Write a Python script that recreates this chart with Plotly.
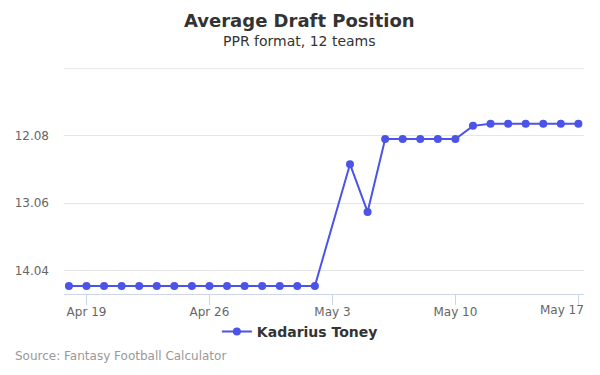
import plotly.graph_objects as go
import pandas as pd

# Data
dates = pd.date_range("2021-04-18", "2021-05-02").strftime("%Y-%m-%d").tolist() + \
        pd.date_range("2021-05-04", "2021-05-17").strftime("%Y-%m-%d").tolist()
adp_overall = [162.3] * 15 + [144.2, 151.3] + [140.45] * 5 + [138.5] + [138.2] * 6
tick_vals = [130, 140, 150, 160]
tick_text = ["", "12.08", "13.06", "14.04"]
x_ticks = ["2021-04-19", "2021-04-26", "2021-05-03", "2021-05-10", "2021-05-17"]
x_tick_text = ["Apr 19", "Apr 26", "May 3", "May 10", ""]
last_tick_label = "May 17"
player = "Kadarius Toney"

color = "#4b53e9"
font_family = "DejaVu Sans"

fig = go.Figure()
fig.add_trace(go.Scatter(
    x=dates, y=adp_overall, mode="lines+markers", name=player,
    line=dict(color=color, width=2),
    marker=dict(color=color, size=8),
    cliponaxis=False,
))

# top gridline
fig.add_shape(type="line", xref="paper", x0=0, x1=1, yref="y", y0=tick_vals[0], y1=tick_vals[0],
              line=dict(color="#e6e6e6", width=1), layer="below")

fig.update_layout(
    width=600, height=375,
    margin=dict(l=64, r=16, t=68, b=81, autoexpand=False),
    paper_bgcolor="white", plot_bgcolor="white",
    font=dict(family=font_family, color="#666666", size=12),
    showlegend=True,
    legend=dict(orientation="h", x=0.4536, xanchor="center", y=-0.168, yanchor="middle",
                bgcolor="rgba(0,0,0,0)",
                font=dict(size=14, color="#333333", family=font_family, weight="bold"),
                itemwidth=30),
    annotations=[
        dict(text="<b>Average Draft Position</b>", xref="paper", yref="paper",
             x=0.4536, y=1.212, xanchor="center", yanchor="middle", showarrow=False,
             font=dict(size=18, color="#333333", family=font_family)),
        dict(text="PPR format, 12 teams", xref="paper", yref="paper",
             x=0.4536, y=1.119, xanchor="center", yanchor="middle", showarrow=False,
             font=dict(size=14, color="#333333", family=font_family)),
        dict(text="Source: Fantasy Football Calculator", xref="paper", yref="paper",
             x=-0.0985, y=-0.274, xanchor="left", yanchor="middle", showarrow=False,
             font=dict(size=12, color="#999999", family=font_family)),
        dict(text=last_tick_label, xref="paper", yref="paper",
             x=1.0, y=-0.0708, xanchor="right", yanchor="middle", showarrow=False,
             xshift=2, font=dict(size=12, color="#666666", family=font_family)),
    ],
)

fig.update_xaxes(
    type="date",
    range=["2021-04-17 17:17", "2021-05-17 07:40"],
    tickvals=x_ticks, ticktext=x_tick_text,
    showgrid=False, showline=True, linecolor="#ccd6eb", linewidth=1,
    ticks="outside", ticklen=10, tickcolor="#ccd6eb",
    tickfont=dict(size=12, color="#666666"),
    ticklabelstandoff=-3,
    zeroline=False, automargin=False,
)
fig.update_yaxes(
    range=[163.5, 129.9],
    tickvals=tick_vals, ticktext=tick_text,
    showgrid=True, gridcolor="#e6e6e6", gridwidth=1,
    showline=False, zeroline=False, ticks="",
    tickfont=dict(size=12, color="#666666"),
    ticklabelstandoff=14,
    automargin=False,
)

fig.write_html("out.html", post_script="document.body.style.margin='0px';",
               config={"displayModeBar": False})
